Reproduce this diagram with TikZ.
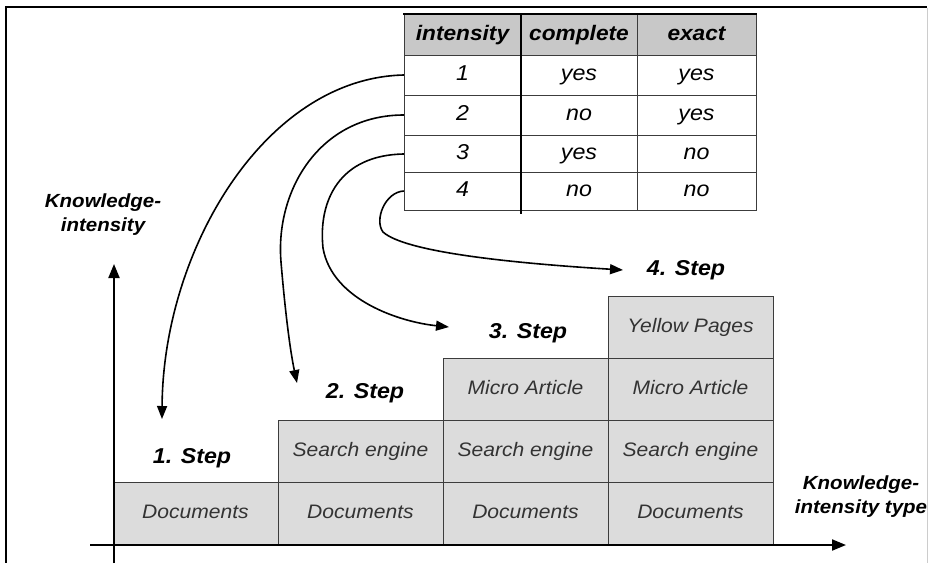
\documentclass[tikz,border=0pt]{standalone}
\usepackage{fontspec}
\setmainfont[FakeStretch=1.08]{Liberation Sans}
\usetikzlibrary{arrows.meta}
\definecolor{hdrgray}{RGB}{200,200,200}
\definecolor{boxgray}{RGB}{220,220,220}
\definecolor{linegray}{RGB}{60,60,60}
\begin{document}
\begin{tikzpicture}[x=1pt,y=-1pt,
  evenrow/.style={text height=13.5pt, text depth=3.5pt},
  tcell/.style={evenrow, inner sep=0pt, minimum height=39pt, font=\fontsize{21.5}{24}\selectfont\itshape},
  thead/.style={evenrow, inner sep=0pt, font=\fontsize{21}{24}\selectfont\bfseries\itshape},
  stepbox/.style={evenrow, draw=linegray, line width=1pt, fill=boxgray, inner sep=0pt,
    minimum width=165pt, minimum height=62pt,
    font=\fontsize{19.5}{22}\selectfont\itshape, text=black!80},
  steplabel/.style={evenrow, inner sep=0pt, font=\fontsize{21.5}{24}\selectfont\bfseries\itshape},
  axislabel/.style={inner sep=0pt, align=center, font=\fontsize{19}{24}\selectfont\bfseries\itshape},
  axis/.style={line width=2pt, -{Triangle[length=14pt,width=11pt]}},
  link/.style={line width=1.6pt, -{Triangle[length=13pt,width=10pt]}}]
\useasboundingbox (0,0) rectangle (928,563);

% frame
\draw[line width=2.5pt] (5,7) -- (927,7);
\draw[line width=2pt] (6,6) -- (6,563);
\draw[line width=1pt, black!20] (927,8) -- (927,563);

% table
\fill[hdrgray] (404,14) rectangle (756,55);
\draw[linegray, line width=1pt] (404,14) rectangle (756,210);
\foreach \yy in {55,95,135,172} \draw[linegray, line width=1pt] (404,\yy) -- (756,\yy);
\draw[linegray, line width=1pt] (637,14) -- (637,210);
\draw[black, line width=2pt] (403,14) -- (757,14);
\draw[black, line width=2pt] (521,14) -- (521,214);

\node[thead] (h1) at (462.5,35) {intensity};
\node[thead] (h2) at (579,35) {complete};
\node[thead] (h3) at (696.5,35) {exact};

\node[tcell, minimum width=117pt] (r1) at (462.5,75) {1};
\node[tcell, minimum width=117pt] (r2) at (462.5,115) {2};
\node[tcell, minimum width=117pt] (r3) at (462.5,154) {3};
\node[tcell, minimum width=117pt] (r4) at (462.5,191) {4};
\node[tcell] (c1) at (579,75) {yes};
\node[tcell] (c2) at (579,115) {no};
\node[tcell] (c3) at (579,154) {yes};
\node[tcell] (c4) at (579,191) {no};
\node[tcell] (e1) at (696.5,75) {yes};
\node[tcell] (e2) at (696.5,115) {yes};
\node[tcell] (e3) at (696.5,154) {no};
\node[tcell] (e4) at (696.5,191) {no};

% steps
\node[stepbox] (d1) at (195.5,513.5) {Documents};
\node[stepbox] (d2) at (360.5,513.5) {Documents};
\node[stepbox] (s2) at (360.5,451) {Search engine};
\node[stepbox] (d3) at (525.5,513.5) {Documents};
\node[stepbox] (s3) at (525.5,451) {Search engine};
\node[stepbox] (m3) at (525.5,389) {Micro Article};
\node[stepbox] (d4) at (690.5,513.5) {Documents};
\node[stepbox] (s4) at (690.5,451) {Search engine};
\node[stepbox] (m4) at (690.5,389) {Micro Article};
\node[stepbox] (y4) at (690.5,327) {Yellow Pages};

\node[steplabel] (l1) at (192,458) {1. Step};
\node[steplabel] (l2) at (365,393) {2. Step};
\node[steplabel] (l3) at (528,333) {3. Step};
\node[steplabel] (l4) at (686,270) {4. Step};

% axes
\coordinate (yfoot) at (114,563);
\coordinate (ytip) at (114,264);
\coordinate (xfoot) at (90,545);
\coordinate (xtip) at (846,545);
\draw[axis] (yfoot) -- (ytip);
\draw[axis] (xfoot) -- (xtip);
\node[axislabel] (ylab) at (103,215) {Knowledge-\\intensity};
\node[axislabel] (xlab) at (861,497) {Knowledge-\\intensity type};

% links from the intensity rows to the steps
\coordinate (t1) at (162,419);
\coordinate (t2) at (297,383);
\coordinate (t3) at (449,327);
\coordinate (t4) at (623,270);
\draw[link] (r1.west) .. controls (265,78) and (163,250) .. (t1);
\draw[link] (r2.west) .. controls (320,115) and (275,190) .. (281,262)
  .. controls (285,310) and (290,350) .. (t2);
\draw[link] (r3.west) .. controls (340,155) and (318,200) .. (323,248)
  .. controls (332,300) and (400,322) .. (t3);
\draw[link] (r4.west) .. controls (385,192) and (374,220) .. (383,232)
  .. controls (405,252) and (510,263) .. (t4);
\end{tikzpicture}
\end{document}
